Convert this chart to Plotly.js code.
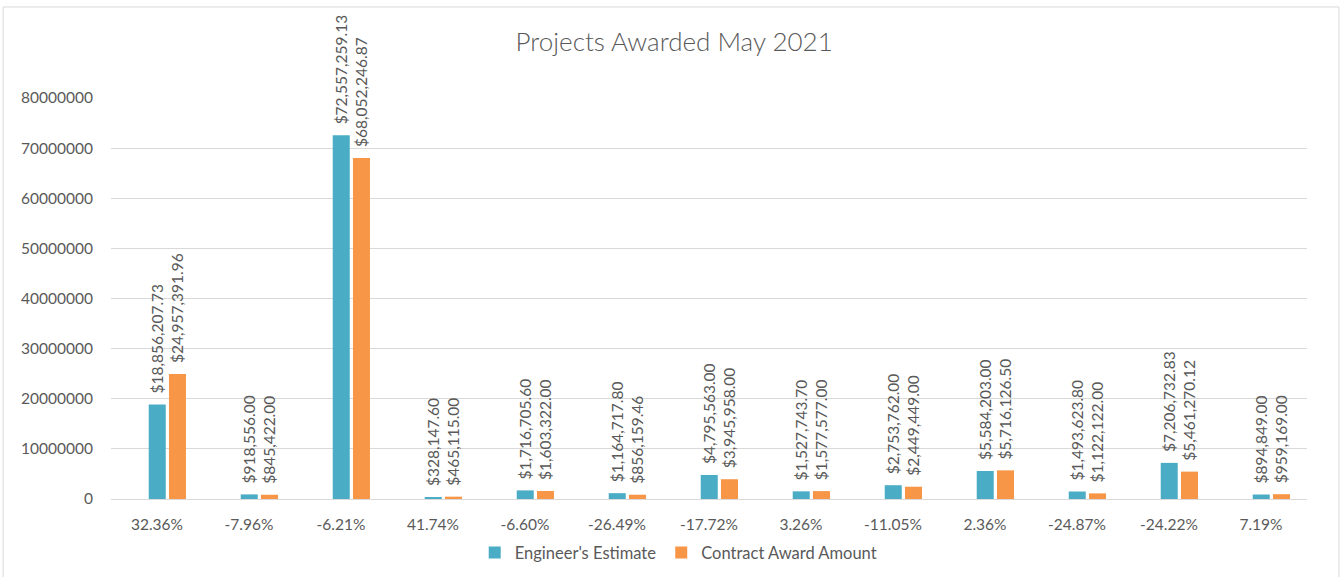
<!DOCTYPE html>
<html>
<head>
<meta charset="utf-8">
<script src="https://cdn.plot.ly/plotly-3.0.1.min.js"></script>
<style>
  html, body { margin: 0; padding: 0; background: #fff; }
  #chart { width: 1343px; height: 577px; }
</style>
</head>
<body>
<div id="chart"></div>
<script>
// Projects awarded May 2021 – percent difference per project on the x axis
const categories = ["32.36%", "-7.96%", "-6.21%", "41.74%", "-6.60%", "-26.49%", "-17.72%",
                    "3.26%", "-11.05%", "2.36%", "-24.87%", "-24.22%", "7.19%"];

const engineersEstimate = [18856207.73, 918556.00, 72557259.13, 328147.60, 1716705.60, 1164717.80,
                           4795563.00, 1527743.70, 2753762.00, 5584203.00, 1493623.80, 7206732.83, 894849.00];

const contractAward = [24957391.96, 845422.00, 68052246.87, 465115.00, 1603322.00, 856159.46,
                       3945958.00, 1577577.00, 2449449.00, 5716126.50, 1122122.00, 5461270.12, 959169.00];

const yTicks = [0, 10000000, 20000000, 30000000, 40000000, 50000000, 60000000, 70000000, 80000000];

const COLORS = {
  blue:   "#4BACC6",
  orange: "#F79646",
  text:   "#595959",
  grid:   "#D9D9D9",
  border: "#D9D9D9",
};

// leading nbsp's give the rotated labels a bit of air above the bar
const money = v => "\u00A0\u00A0$" + v.toLocaleString("en-US", { minimumFractionDigits: 2, maximumFractionDigits: 2 });

const FONT = "Lato, 'Open Sans', sans-serif";

// bars sit a little right of the category centre, like the original
function barTrace(name, values, color, offset) {
  return {
    type: "bar", name,
    x: categories, y: values,
    width: 0.185, offset,
    marker: { color, line: { width: 0 } },
    text: values.map(money),
    textposition: "outside",
    textangle: -90,
    constraintext: "none",
    textfont: { color: COLORS.text, size: 15.5, family: FONT },
    cliponaxis: false,
    hoverinfo: "skip",
  };
}

Plotly.newPlot("chart", [
  barTrace("Engineer's Estimate", engineersEstimate, COLORS.blue, -0.09),
  barTrace("Contract Award Amount", contractAward, COLORS.orange, 0.13),
], {
  width: 1343, height: 577,
  paper_bgcolor: "#fff",
  plot_bgcolor: "#fff",
  font: { family: FONT, color: COLORS.text, size: 15 },
  margin: { l: 111, r: 36, t: 98, b: 78 },
  title: { text: "Projects Awarded May 2021", x: 0.502, xref: "container", y: 0.927, yanchor: "middle",
           font: { size: 26, color: COLORS.text, family: FONT, weight: 300 } },
  barmode: "overlay",
  xaxis: {
    type: "category",
    showgrid: false,
    showline: true, linecolor: COLORS.grid, linewidth: 1,
    ticks: "", ticklabelstandoff: 11,
    tickfont: { size: 15.5, color: COLORS.text },
  },
  yaxis: {
    range: [0, 80000000],
    tickvals: yTicks,
    ticktext: yTicks.map(String),
    gridcolor: COLORS.grid, gridwidth: 1,
    zeroline: false, showline: false,
    ticks: "", ticklabelstandoff: 17,
    tickfont: { size: 15.5, color: COLORS.text },
  },
  showlegend: true,
  legend: {
    orientation: "h", xref: "container", x: 0.505, xanchor: "center",
    yref: "container", y: 0.042, yanchor: "middle",
    font: { size: 16.5, color: COLORS.text },
    traceorder: "normal",
  },
  shapes: [{
    type: "rect", xref: "paper", yref: "paper",
    x0: -0.0902, x1: 1.0267, y0: -0.22, y1: 1.227,
    line: { color: COLORS.border, width: 1 }, fillcolor: "rgba(0,0,0,0)", layer: "below",
  }],
}, { displayModeBar: false, responsive: false });
</script>
</body>
</html>
